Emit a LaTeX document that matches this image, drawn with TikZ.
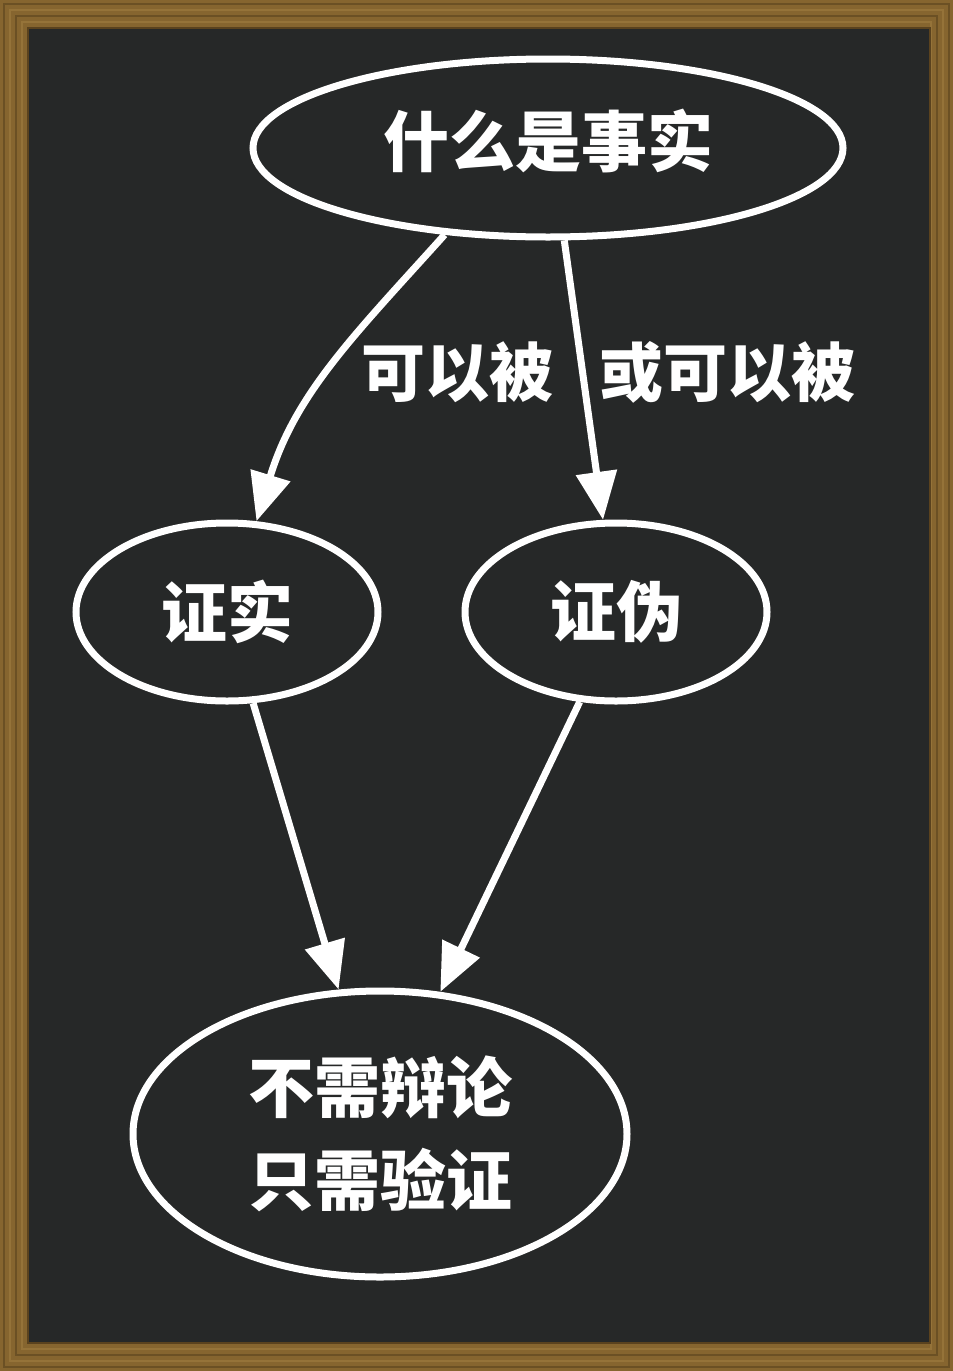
\documentclass[tikz,border=0pt]{standalone}
\usepackage{fontspec}
\newfontfamily\cjk{Noto Sans CJK SC}
\usetikzlibrary{shapes.geometric,arrows.meta}
\definecolor{board}{HTML}{262828}
\definecolor{wood}{HTML}{86652F}
\definecolor{wooddark}{HTML}{5A421E}
\definecolor{woodlight}{HTML}{A07D40}
\begin{document}
\begin{tikzpicture}[x=1pt,y=-1pt,
  bubble/.style={ellipse,draw=white,line width=7pt,inner sep=0pt,text=white,font=\cjk\bfseries\fontsize{66}{93}\selectfont,align=center},
  lbl/.style={text=white,font=\cjk\bfseries\fontsize{64}{70}\selectfont,inner sep=0pt},
  conn/.style={draw=white,line width=7pt,-{Triangle[length=48pt,width=40pt]}}]
\useasboundingbox (0,0) rectangle (953,1371);
% frame
\fill[wood] (0,0) rectangle (953,1371);
\foreach \d/\c in {4/wooddark,10/woodlight,16/wooddark,22/woodlight}
  \draw[\c,line width=1.5pt,opacity=0.6] (\d,\d) rectangle (953-\d,1371-\d);
\fill[board] (28,28) rectangle (930,1343);
\draw[wooddark,line width=2pt] (28,28) rectangle (930,1343);
% nodes
\node[bubble,minimum width=590pt,minimum height=178pt] (top) at (548,148) {};
\node[text=white,font=\cjk\bfseries\fontsize{66}{93}\selectfont,inner sep=0pt] (toptext) at (548,141) {什么是事实};
\node[bubble,minimum width=302pt,minimum height=178pt] (ver) at (227,612) {证实};
\node[bubble,minimum width=302pt,minimum height=178pt] (fal) at (616,612) {证伪};
\node[bubble,minimum width=494pt,minimum height=286pt] (res) at (380,1134) {不需辩论\\只需验证};
% connectors
\draw[conn] (top.220) to[out=228,in=73] (ver.72);
\draw[conn] (top.-80) -- (fal.98);
\draw[conn] (ver.-74) -- (res.106);
\draw[conn] (fal.-112) -- (res.67);
% labels
\node[lbl] (l1) at (457,372) {可以被};
\node[lbl] (l2) at (727,372) {或可以被};
\end{tikzpicture}
\end{document}
